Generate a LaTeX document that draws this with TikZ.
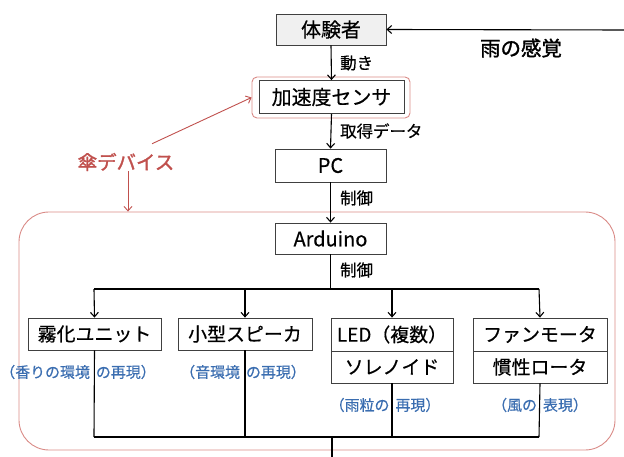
\documentclass[tikz,border=0pt]{standalone}
\usepackage{fontspec}
\setmainfont[FakeBold=0.5]{Noto Sans CJK JP}
\newfontfamily\heavyfont[FakeBold=1.5]{Noto Sans CJK JP}
\usetikzlibrary{arrows.meta}
\definecolor{redline}{HTML}{D98A86}
\definecolor{redtext}{HTML}{C0504D}
\definecolor{bluetext}{HTML}{3A6DB0}
\tikzset{
  box/.style={draw=black!75, line width=0.8bp, fill=white, inner sep=0pt, font=\fontsize{19}{21}\selectfont},
  bigbox/.style={box, font=\fontsize{20}{22}\selectfont},
  lbl/.style={inner sep=0pt, anchor=west, font=\fontsize{16.5}{18}\selectfont},
  note/.style={inner sep=0pt, text=bluetext, font=\fontsize{15}{16}\selectfont},
  conn/.style={line width=1.1bp, black},
  arr/.style={conn, -{Straight Barb[length=4.5pt,width=8pt]}},
  redarr/.style={redtext, line width=0.9bp, -{Straight Barb[length=4.5pt,width=8pt]}},
}
\begin{document}
\begin{tikzpicture}[x=1bp,y=-1bp]
\useasboundingbox (0,0) rectangle (624,457);
% big red device frame
\node[draw=redline, line width=0.9bp, rounded corners=30bp, minimum width=596bp, minimum height=238bp, inner sep=0pt] (dev) at (317,331) {};
% sensor red frame
\node[draw=redline, line width=0.9bp, rounded corners=5bp, minimum width=158bp, minimum height=41bp, inner sep=0pt] (sensfr) at (331,97.5) {};
% main chain
\node[bigbox, fill=black!6, minimum width=110bp, minimum height=31bp] (user) at (331,29.5) {体験者};
\node[bigbox, minimum width=145bp, minimum height=33bp] (sensor) at (331.5,97) {加速度センサ};
\node[bigbox, minimum width=111bp, minimum height=33bp] (pc) at (330.5,165.5) {PC};
\node[bigbox, minimum width=111bp, minimum height=31bp] (ard) at (330.5,238.5) {Arduino};
% devices
\node[box, minimum width=133bp, minimum height=32bp] (fog) at (94.5,334) {霧化ユニット};
\node[box, minimum width=134bp, minimum height=32bp] (spk) at (245,334) {小型スピーカ};
\node[box, minimum width=122bp, minimum height=33bp] (led) at (392,334.5) {LED（複数）};
\node[box, minimum width=122bp, minimum height=32bp] (sol) at (392,367) {ソレノイド};
\node[box, minimum width=134bp, minimum height=33bp] (fan) at (540,334.5) {ファンモータ};
\node[box, minimum width=134bp, minimum height=32bp] (rot) at (540,367) {慣性ロータ};
% labels
\node[lbl] (l1) at (340,63) {動き};
\node[lbl] (l2) at (340,131) {取得データ};
\node[lbl] (l3) at (340,198) {制御};
\node[lbl] (l4) at (340,270) {制御};
\node[inner sep=0pt, font=\heavyfont\fontsize{20.5}{22}\selectfont] (rain) at (521,48) {雨の感覚};
\node[inner sep=0pt, text=redtext, font=\heavyfont\fontsize{19.5}{22}\selectfont] (umb) at (126,162) {傘デバイス};
% notes
\node[note] (n1) at (78,372) {（香りの環境\hspace{0.4em}の再現）};
\node[note] (n2) at (243,372) {（音環境\hspace{0.4em}の再現）};
\node[note] (n3) at (385,405) {（雨粒の\hspace{0.4em}再現）};
\node[note] (n4) at (540,405) {（風の\hspace{0.4em}表現）};
% coordinates
\coordinate (rainstart) at (624,30);
\coordinate (busL) at (94,289);
\coordinate (busR) at (539,289);
\coordinate (busM) at (330.5,289);
\coordinate (botL) at (94,437);
\coordinate (botR) at (539,437);
\coordinate (botM) at (332,437);
\coordinate (botEnd) at (332,457);
% connectors
\draw[arr] (rainstart) -- (user.east);
\draw[arr] (user.south) -- (sensor.north);
\draw[arr] (sensor.south) -- (pc.north);
\draw[arr] (pc.south) -- (ard.north);
\draw[conn] (ard.south) -- (busM);
\draw[conn] (busL) -- (busR);
\draw[arr] (busL) -- (fog.north);
\draw[arr] (spk.north |- busL) -- (spk.north);
\draw[arr] (led.north |- busL) -- (led.north);
\draw[arr] (busR) -- (fan.north);
\draw[conn] (fog.south) -- (botL);
\draw[conn] (spk.south) -- (spk.south |- botL);
\draw[conn] (sol.south) -- (sol.south |- botL);
\draw[conn] (rot.south) -- (botR);
\draw[conn] (botL) -- (botR);
\draw[conn] (botM) -- (botEnd);
% red arrows
\draw[redarr] ([xshift=26bp,yshift=9bp]umb.north) -- (sensfr.west);
\draw[redarr] ([xshift=2bp]umb.south) -- ([xshift=2bp]umb.south |- dev.north);
\end{tikzpicture}
\end{document}
